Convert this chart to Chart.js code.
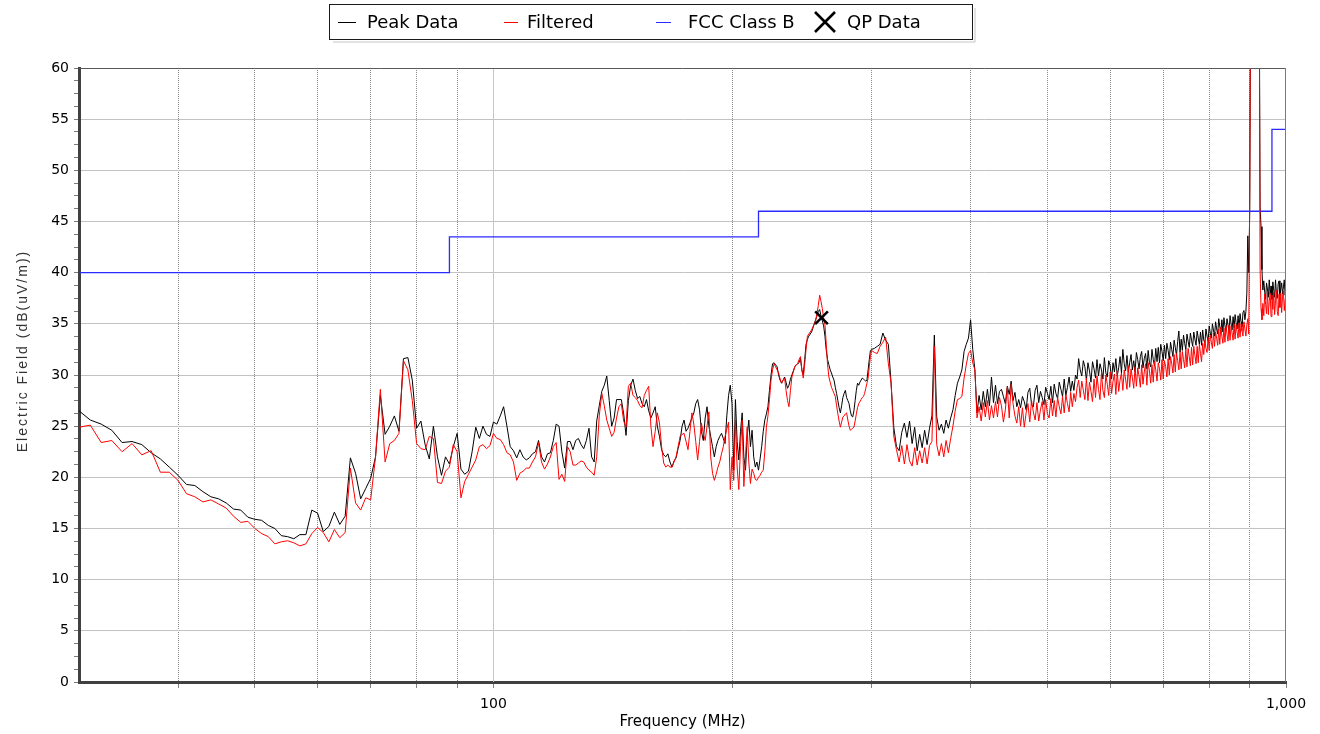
<!DOCTYPE html>
<html>
<head>
<meta charset="utf-8">
<title>Radiated Emissions – FCC Class B</title>
<script src="https://cdn.jsdelivr.net/npm/chart.js@4.4.0/dist/chart.umd.min.js"></script>
<style>
  html, body { margin: 0; padding: 0; background: #ffffff; }
  #wrap { width: 1320px; height: 734px; position: relative; }
</style>
</head>
<body>
<div id="wrap"><canvas id="chart" width="1320" height="734"></canvas></div>
<script>
// Sweep grid: 30–300 MHz in 1 MHz steps, 302.5–1000 MHz in 2.5 MHz steps
const lowStartMHz = 30, lowStepMHz = 1;
const highStartMHz = 302.5, highStepMHz = 2.5;

// Peak detector trace, dB(uV/m)
const peakLow = [
  26.5, 25.6, 25.2, 24.6, 23.4, 23.5, 23.2, 22.4, 21.8, 21.0,
  20.2, 19.3, 19.2, 18.6, 18.1, 17.9, 17.5, 16.9, 16.8, 16.1,
  15.9, 15.8, 15.3, 15.0, 14.3, 14.2, 14.0, 14.4, 14.4, 16.8,
  16.5, 14.7, 15.2, 16.6, 15.4, 16.2, 21.9, 20.4, 17.9, 18.9,
  19.9, 22.0, 28.0, 24.2, 25.0, 26.0, 24.5, 31.6, 31.7, 29.5,
  24.8, 25.5, 23.2, 21.8, 25.0, 22.0, 20.2, 22.0, 21.3, 23.0,
  24.3, 20.8, 20.3, 20.6, 22.5, 24.9, 23.8, 25.0, 24.2, 24.0,
  25.4, 25.2, 26.0, 26.9, 25.0, 23.0, 22.6, 21.9, 22.7, 22.0,
  21.7, 21.9, 22.3, 22.5, 23.6, 22.0, 21.5, 22.3, 22.4, 23.6,
  25.2, 25.0, 22.5, 20.9, 23.5, 23.5, 22.7, 23.6, 23.8, 23.2,
  22.8, 23.6, 24.8, 22.0, 21.5, 25.5, 27.0, 28.4, 29.0, 29.9,
  27.5, 25.0, 25.8, 27.6, 27.6, 27.6, 26.2, 24.1, 27.5, 29.0,
  29.6, 28.5, 27.7, 27.9, 27.2, 26.9, 27.6, 26.5, 25.8, 26.3,
  26.9, 25.0, 24.0, 22.7, 22.2, 22.0, 22.3, 21.5, 21.0, 21.6,
  21.9, 22.8, 23.6, 25.0, 25.6, 24.5, 24.8, 25.3, 25.8, 26.3,
  27.2, 27.6, 26.6, 24.5, 23.6, 25.8, 26.9, 25.0, 24.0, 23.0,
  22.0, 23.0, 23.6, 24.0, 24.3, 23.8, 23.3, 26.0, 28.0, 29.0,
  27.2, 20.7, 27.6, 23.5, 21.7, 24.5, 26.3, 22.0, 20.7, 24.0,
  25.6, 23.0, 24.6, 22.0, 21.0, 21.5, 20.7, 21.8, 23.0, 24.5,
  25.6, 26.2, 26.9, 28.5, 30.0, 31.1, 31.2, 31.0, 30.8, 30.0,
  29.5, 29.2, 29.5, 29.8, 29.3, 28.7, 29.0, 29.6, 30.0, 30.4,
  30.8, 31.0, 31.1, 31.2, 31.6, 30.5, 30.0, 31.5, 33.0, 33.5,
  33.8, 34.0, 34.2, 34.6, 35.0, 35.4, 35.8, 36.2, 36.4, 35.8,
  35.3, 34.8, 33.8, 32.4, 31.5, 31.0, 30.5, 30.2, 29.8, 29.5,
  28.8, 28.2, 27.5, 26.8, 26.3, 27.0, 27.8, 28.2, 28.5, 27.8,
  27.5, 27.2, 26.5, 26.0, 25.9, 26.5, 27.5, 28.5, 29.2, 29.0,
  29.3, 29.5, 29.7, 29.6, 29.5, 29.4, 29.5, 30.5, 31.5, 32.4,
  32.5
];
const peakHigh = [
  32.6, 32.8, 33.0, 34.1, 33.4, 33.0, 29.2, 24.9, 23.0, 22.6,
  24.4, 25.3, 23.9, 25.5, 23.3, 24.9, 22.6, 24.2, 22.9, 24.6,
  23.2, 24.8, 26.0, 33.9, 25.9, 24.6, 25.2, 24.3, 25.6, 24.8,
  25.8, 26.6, 28.0, 29.2, 29.8, 30.5, 32.3, 33.0, 33.6, 35.4,
  32.5, 30.5, 26.3, 28.0, 26.6, 28.4, 26.9, 28.6, 27.0, 29.8,
  27.3, 29.0, 27.2, 28.4,
  28.6, 27.9, 27.2, 28.9, 28.1, 29.4, 27.5, 28.3, 26.9, 27.6,
  26.8, 27.9, 27.4, 26.6, 28.3, 28.7, 27.1, 26.9, 28.5, 29.0,
  27.3, 28.4, 27.8, 27.1, 28.8, 28.2, 27.6, 28.9, 27.3, 29.1,
  28.2, 27.7, 29.3, 28.6, 27.9, 29.6, 28.0, 28.8, 29.8, 28.4,
  29.4, 28.5, 30.0, 29.6, 31.6, 30.5, 29.9, 31.4, 30.8, 29.5,
  31.2, 30.4, 29.3, 31.3, 30.6, 29.7, 31.5, 29.9, 31.1, 30.5,
  29.6, 31.7, 30.2, 29.8, 31.4, 30.9, 29.6, 31.2, 30.3, 31.6,
  29.9, 30.7, 31.8, 30.2, 32.5, 31.1, 30.4, 31.9, 30.3, 31.2,
  32.0, 30.5, 31.4, 30.3, 32.2, 31.5, 30.6, 31.8, 32.3, 30.7,
  31.6, 32.1, 30.6, 32.4, 31.2, 30.8, 32.5, 31.5, 30.9, 32.6,
  31.3, 32.7, 31.2, 33.0, 32.3, 31.4, 32.9, 31.6, 33.1, 32.4,
  31.5, 33.2, 32.5, 31.8, 33.4, 32.7, 31.9, 33.3, 34.3, 32.2,
  33.5, 32.4, 33.9, 33.1, 32.5, 34.0, 33.3, 32.7, 34.1, 33.4,
  32.8, 34.2, 33.5, 32.9, 34.3, 33.6, 33.0, 34.2, 32.9, 34.4,
  33.4, 33.1, 34.5, 33.8, 33.3, 34.8, 34.1, 33.6, 35.0, 34.4,
  33.8, 35.2, 34.5, 34.0, 35.5, 34.7, 34.1, 35.4, 34.2, 35.6,
  34.8, 34.3, 35.5, 34.9, 34.2, 35.8, 35.0, 34.4, 35.7, 34.6,
  35.9, 35.1, 34.5, 35.8, 34.6, 36.0, 35.2, 34.7, 36.1, 36.3,
  35.4, 36.2, 38.0, 43.6, 40.0, 46.0, 70.0, 70.0, 70.0, 70.0,
  70.0, 70.0, 70.0, 70.0, 70.0, 70.0, 46.4, 44.5, 40.3, 38.3,
  39.2, 38.1, 37.4, 39.0, 38.4, 37.6, 39.3, 37.9, 38.7, 37.4,
  39.1, 38.3, 37.6, 39.3, 38.0, 37.5, 38.9, 39.2, 37.7, 38.4,
  39.0, 37.9, 38.6, 39.3, 37.8, 38.6
];

// Filtered trace, dB(uV/m)
const filteredLow = [
  24.9, 25.1, 23.4, 23.6, 22.5, 23.3, 22.2, 22.6, 20.5, 20.5,
  19.7, 18.4, 18.1, 17.6, 17.8, 17.4, 17.0, 16.2, 15.6, 15.7,
  15.0, 14.5, 14.2, 13.5, 13.7, 13.8, 13.6, 13.3, 13.5, 14.5,
  15.1, 14.6, 13.7, 14.9, 14.1, 14.6, 20.9, 17.5, 16.8, 18.0,
  17.8, 22.0, 28.6, 21.5, 23.3, 23.6, 24.3, 31.4, 30.5, 27.5,
  23.3, 22.8, 22.7, 24.0, 23.8, 19.5, 19.4, 20.6, 21.0, 23.2,
  22.5, 18.0, 19.6, 20.3, 21.0, 21.7, 23.0, 23.2, 22.8, 23.1,
  24.3, 23.8, 23.7, 23.2, 22.4, 22.2, 21.5, 19.7, 20.4, 20.6,
  20.9, 20.9, 21.5, 22.0, 23.4, 21.5, 20.8, 21.3, 22.0, 23.0,
  23.4, 19.8, 20.3, 19.6, 23.0, 22.5, 21.2, 21.2, 21.4, 21.6,
  21.5, 21.0, 20.7, 20.5, 20.2, 22.0, 26.0, 28.2, 27.0, 25.6,
  24.8, 24.0, 24.4, 25.8, 26.9, 27.2, 25.5, 24.9, 28.9, 29.2,
  28.0, 27.8, 27.5, 27.0, 26.8, 28.0, 28.5, 28.9, 25.0, 23.0,
  24.5, 26.3, 25.3, 23.0, 21.4, 21.0, 21.2, 21.0, 21.0, 21.5,
  22.0, 23.0, 24.0, 24.2, 24.3, 23.5, 22.7, 24.5, 26.3, 25.2,
  23.5, 21.7, 23.5, 25.3, 24.3, 23.6, 25.0, 26.4, 22.0, 20.4,
  19.7, 20.3, 21.0, 21.5, 22.3, 23.0, 24.0, 24.7, 25.4, 18.8,
  22.0, 19.7, 25.6, 21.0, 18.8, 23.0, 25.6, 19.1, 22.0, 24.9,
  21.5, 19.4, 20.8, 20.4, 19.8, 19.7, 20.0, 20.2, 20.5, 20.7,
  22.5, 24.9, 26.0, 27.6, 29.5, 30.5, 31.1, 30.8, 30.5, 30.2,
  29.6, 29.2, 29.5, 29.7, 28.5, 27.5, 26.9, 28.5, 29.8, 30.3,
  30.8, 31.0, 31.1, 31.5, 31.8, 30.5, 29.7, 31.0, 32.5, 33.8,
  34.0, 34.2, 34.4, 34.7, 35.0, 35.3, 36.0, 36.8, 37.8, 37.2,
  36.5, 35.6, 34.9, 33.0, 31.0, 29.8, 29.3, 28.8, 28.5, 28.2,
  27.9, 27.0, 26.2, 25.5, 24.9, 25.4, 25.9, 26.0, 26.2, 26.3,
  25.6, 25.0, 24.6, 24.7, 24.8, 24.9, 25.5, 26.2, 26.8, 27.2,
  27.4, 27.6, 27.8, 27.9, 28.2, 28.7, 29.2, 29.7, 30.8, 31.8,
  32.4
];
const filteredHigh = [
  32.2, 32.1, 32.8, 33.2, 33.7, 31.1, 29.2, 24.0, 22.7, 21.5,
  23.1, 21.3, 23.2, 21.6, 21.1, 22.9, 21.2, 22.6, 21.4, 22.9,
  21.3, 23.1, 23.5, 32.8, 23.2, 22.1, 23.3, 22.0, 23.6, 22.4,
  23.8, 25.0, 26.5, 27.6, 27.7, 27.9, 29.7, 31.0, 32.1, 32.4,
  31.2, 30.5, 25.8, 26.9, 25.5, 27.3, 25.9, 27.5, 25.6, 27.0,
  25.8, 27.4, 25.9, 27.8,
  27.0, 25.4, 26.6, 28.8, 25.8, 29.1, 27.2, 26.0, 25.3, 26.9,
  25.0, 26.8, 24.9, 26.3, 27.2, 25.4, 27.5, 26.4, 25.6, 27.3,
  25.5, 26.6, 27.4, 25.6, 27.6, 26.2, 25.8, 27.7, 26.0, 27.5,
  25.9, 27.8, 26.9, 26.2, 27.9, 26.3, 28.1, 27.2, 26.4, 28.3,
  26.9, 28.2, 27.4, 28.8, 29.5, 27.8, 29.4, 28.5, 27.6, 29.7,
  27.5, 29.3, 28.4, 27.4, 29.6, 27.8, 29.9, 28.6, 27.6, 30.2,
  28.5, 27.8, 30.0, 29.1, 28.0, 30.3, 28.2, 29.4, 30.1, 28.1,
  30.4, 28.4, 29.5, 30.2, 28.5, 30.5, 29.6, 28.6, 30.9, 28.8,
  30.6, 29.7, 28.7, 30.8, 28.9, 30.7, 29.9, 28.8, 31.0, 29.1,
  30.3, 31.1, 29.0, 31.2, 30.4, 29.2, 31.0, 29.3, 31.3, 30.5,
  29.4, 31.2, 30.6, 29.5, 31.5, 29.6, 31.4, 30.8, 29.8, 31.6,
  30.0, 31.8, 31.1, 30.2, 32.0, 30.3, 32.1, 31.4, 30.5, 32.2,
  30.6, 32.3, 31.5, 30.7, 32.5, 30.8, 32.6, 31.8, 30.9, 32.7,
  31.0, 32.8, 31.9, 31.1, 32.8, 31.2, 33.0, 32.1, 31.3, 33.1,
  32.0, 33.4, 32.6, 32.2, 33.7, 32.4, 33.9, 33.2, 32.6, 34.1,
  32.8, 34.2, 33.6, 32.9, 34.5, 33.0, 34.7, 33.8, 33.1, 34.6,
  33.2, 34.8, 34.0, 33.3, 34.9, 33.4, 34.8, 34.1, 33.4, 35.0,
  33.5, 34.9, 34.2, 33.6, 35.1, 33.7, 35.0, 34.3, 33.8, 35.2,
  34.5, 33.8, 34.9, 35.5, 34.0, 48.0, 70.0, 70.0, 70.0, 70.0,
  70.0, 70.0, 70.0, 70.0, 70.0, 70.0, 40.3, 36.5, 35.4, 37.0,
  35.8, 37.9, 36.9, 36.0, 38.2, 35.9, 37.2, 38.0, 35.7, 37.8,
  36.4, 38.1, 35.9, 37.3, 38.3, 36.2, 35.8, 37.9, 36.6, 38.0,
  36.1, 37.7, 38.2, 36.3, 37.4, 37.6
];

// FCC Part 15 Class B radiated limit (3 m), stepped at each band edge
const fccFreqMHz = [30, 88, 216, 960, 1000];
const fccLimit = [40, 43.5, 46, 54, 54];

// Quasi-peak measurement
const qpFreqMHz = [259.4];
const qpLevel = [35.6];

// Axis ticks
const xGridMHz = [40, 50, 60, 70, 80, 90, 100, 200, 300, 400, 500, 600, 700, 800, 900, 1000];
const xLabelMHz = [100, 1000];
const xLabelText = ['100', '1,000'];
const yMajorTicks = [0, 5, 10, 15, 20, 25, 30, 35, 40, 45, 50, 55, 60];
const yMinorPerMajor = 3;

// ---------------------------------------------------------------------------
const lowFreq = peakLow.map((_, i) => lowStartMHz + i * lowStepMHz);
const highFreq = peakHigh.map((_, i) => highStartMHz + i * highStepMHz);
const sweepFreq = lowFreq.concat(highFreq);
const toPoints = (xs, ys) => ys.map((y, i) => ({ x: xs[i], y: y }));

const yTickValues = [];
yMajorTicks.forEach((v, i) => {
  yTickValues.push(v);
  if (i < yMajorTicks.length - 1) {
    const step = (yMajorTicks[i + 1] - v) / (yMinorPerMajor + 1);
    for (let k = 1; k <= yMinorPerMajor; k++) yTickValues.push(v + k * step);
  }
});
const isMajorY = v => yMajorTicks.some(m => Math.abs(m - v) < 1e-6);

const legendSlots = [
  { textX: 367, lineFrom: 338, lineTo: 356 },
  { textX: 527, lineFrom: 504, lineTo: 518 },
  { textX: 688, lineFrom: 656, lineTo: 671 },
  { textX: 847, markX: 825 }
];

const chartDecor = {
  id: 'chartDecor',
  beforeDatasetsDraw(chart) {
    const { ctx, chartArea: a, scales: { x } } = chart;
    // solid decade line at 100 MHz
    const px = Math.round(x.getPixelForValue(100)) + 0.5;
    ctx.save();
    ctx.strokeStyle = '#c6c6c6';
    ctx.lineWidth = 1;
    ctx.beginPath();
    ctx.moveTo(px, a.top);
    ctx.lineTo(px, a.bottom);
    ctx.stroke();
    ctx.restore();
  },
  afterDraw(chart) {
    const { ctx, chartArea: a } = chart;
    ctx.save();
    // top and right frame of the plot area
    ctx.lineWidth = 1;
    ctx.strokeStyle = '#5a5a5a';
    ctx.beginPath();
    ctx.moveTo(a.left, Math.round(a.top) + 0.5);
    ctx.lineTo(a.right, Math.round(a.top) + 0.5);
    ctx.stroke();
    ctx.strokeStyle = '#7a7a7a';
    ctx.beginPath();
    ctx.moveTo(Math.round(a.right) - 0.5, a.top);
    ctx.lineTo(Math.round(a.right) - 0.5, a.bottom);
    ctx.stroke();

    // vertical axis title
    ctx.save();
    ctx.translate(26.5, 351);
    ctx.rotate(-Math.PI / 2);
    ctx.font = '14px "Liberation Sans", Arial, sans-serif';
    if ('letterSpacing' in ctx) ctx.letterSpacing = '2px';
    ctx.fillStyle = '#333333';
    ctx.textAlign = 'center';
    ctx.textBaseline = 'alphabetic';
    ctx.fillText('Electric Field (dB(uV/m))', 0, 0);
    ctx.restore();

    // legend box
    const bx = 329.5, by = 4.5, bw = 643, bh = 35;
    ctx.strokeStyle = '#8c8c8c';
    ctx.setLineDash([1, 1]);
    ctx.beginPath();
    ctx.moveTo(bx + 4, by + bh + 2.5);
    ctx.lineTo(bx + bw + 2.5, by + bh + 2.5);
    ctx.lineTo(bx + bw + 2.5, by + 4);
    ctx.stroke();
    ctx.setLineDash([]);
    ctx.strokeStyle = '#1a1a1a';
    ctx.strokeRect(bx, by, bw, bh);

    const cy = 22;
    ctx.font = '18px "DejaVu Sans", Verdana, sans-serif';
    ctx.textAlign = 'left';
    ctx.textBaseline = 'middle';
    chart.data.datasets.forEach((ds, i) => {
      const slot = legendSlots[i];
      if (slot.markX !== undefined) {
        const r = 10;
        ctx.strokeStyle = ds.pointBorderColor;
        ctx.lineWidth = 2.6;
        ctx.beginPath();
        ctx.moveTo(slot.markX - r, cy - r);
        ctx.lineTo(slot.markX + r, cy + r);
        ctx.moveTo(slot.markX + r, cy - r);
        ctx.lineTo(slot.markX - r, cy + r);
        ctx.stroke();
      } else {
        ctx.strokeStyle = ds.borderColor;
        ctx.lineWidth = 1;
        ctx.beginPath();
        ctx.moveTo(slot.lineFrom, cy + 0.5);
        ctx.lineTo(slot.lineTo, cy + 0.5);
        ctx.stroke();
      }
      ctx.fillStyle = '#000000';
      ctx.fillText(ds.label, slot.textX, cy + 1);
    });
    ctx.restore();
  }
};

new Chart(document.getElementById('chart'), {
  type: 'line',
  data: {
    datasets: [
      {
        label: 'Peak Data',
        data: toPoints(sweepFreq, peakLow.concat(peakHigh)),
        borderColor: '#000000',
        borderWidth: 1,
        borderJoinStyle: 'bevel',
        pointRadius: 0,
        tension: 0,
        order: 3
      },
      {
        label: 'Filtered',
        data: toPoints(sweepFreq, filteredLow.concat(filteredHigh)),
        borderColor: '#ff0000',
        borderWidth: 1,
        borderJoinStyle: 'bevel',
        pointRadius: 0,
        tension: 0,
        order: 1
      },
      {
        label: 'FCC Class B',
        data: toPoints(fccFreqMHz, fccLimit),
        borderColor: '#2b2bff',
        borderWidth: 1.3,
        stepped: 'before',
        pointRadius: 0,
        order: 2
      },
      {
        label: 'QP Data',
        data: toPoints(qpFreqMHz, qpLevel),
        showLine: false,
        pointStyle: 'crossRot',
        pointRadius: 9,
        pointBorderWidth: 2.5,
        pointBorderColor: '#000000',
        pointBackgroundColor: '#000000',
        order: 0
      }
    ]
  },
  options: {
    responsive: false,
    animation: false,
    events: [],
    layout: { padding: { left: 0, right: 34, top: 68, bottom: 0 } },
    plugins: { legend: { display: false }, tooltip: { enabled: false } },
    scales: {
      x: {
        type: 'logarithmic',
        min: 30,
        max: 1000,
        afterBuildTicks: s => { s.ticks = xGridMHz.map(v => ({ value: v })); },
        afterFit: s => { s.height = 52; },
        ticks: {
          autoSkip: false,
          maxRotation: 0,
          padding: 8,
          color: '#000000',
          font: { family: 'DejaVu Sans', size: 14 },
          callback: v => {
            const k = xLabelMHz.indexOf(v);
            return k >= 0 ? xLabelText[k] : '';
          }
        },
        grid: {
          color: c => (c.tick && (c.tick.value === 100 || c.tick.value === 1000)) ? 'rgba(0,0,0,0)' : '#8a8a8a',
          lineWidth: 1,
          tickLength: 6,
          tickColor: '#808080'
        },
        border: { display: true, color: '#404040', width: 3, dash: [1, 1] },
        title: {
          display: true,
          text: 'Frequency (MHz)',
          color: '#000000',
          font: { family: 'DejaVu Sans', size: 15 },
          padding: { top: 0, bottom: 3 }
        }
      },
      y: {
        type: 'linear',
        min: 0,
        max: 60,
        afterBuildTicks: s => { s.ticks = yTickValues.map(v => ({ value: v })); },
        afterFit: s => { s.width = 79; },
        ticks: {
          autoSkip: false,
          padding: 5,
          color: '#000000',
          font: { family: 'DejaVu Sans', size: 14 },
          callback: v => isMajorY(v) ? String(Math.round(v)) : ''
        },
        grid: {
          color: c => (c.tick && isMajorY(c.tick.value) && c.tick.value > 0 && c.tick.value < 60) ? '#c2c2c2' : 'rgba(0,0,0,0)',
          lineWidth: 1,
          tickLength: 5,
          tickColor: '#7a7a7a'
        },
        border: { display: true, color: '#404040', width: 3 }
      }
    }
  },
  plugins: [chartDecor]
});
</script>
</body>
</html>
